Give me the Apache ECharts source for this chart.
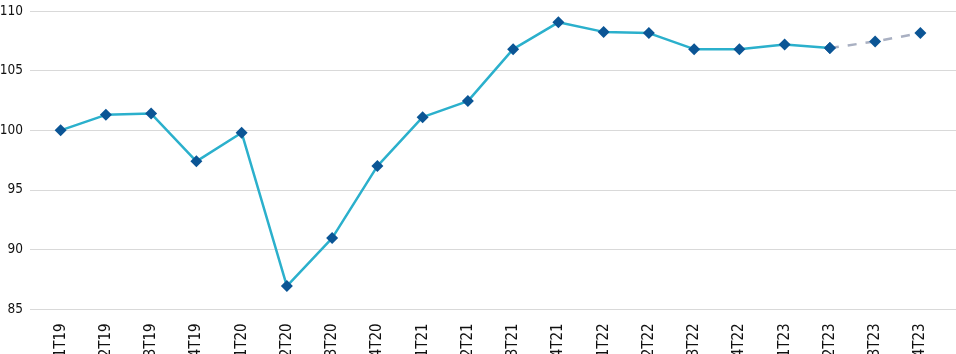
<!DOCTYPE html>
<html><head><meta charset="utf-8">
<script src="https://cdn.jsdelivr.net/npm/echarts@6/dist/echarts.min.js"></script>
<style>html,body{margin:0;padding:0;background:#fff}#c{width:956px;height:354px}</style>
</head><body><div id="c"></div>
<script>
var categories = ['1T19','2T19','3T19','4T19','1T20','2T20','3T20','4T20','1T21','2T21','3T21','4T21','1T22','2T22','3T22','4T22','1T23','2T23','3T23','4T23'];
var actual = [100.0,101.3,101.4,97.4,99.8,86.95,90.97,97.0,101.1,102.45,106.8,109.05,108.25,108.15,106.8,106.8,107.2,106.9,null,null];
var forecast = [null,null,null,null,null,null,null,null,null,null,null,null,null,null,null,null,null,106.9,107.45,108.15];
var yTicks = {min:85, max:110, interval:5};

var chart = echarts.init(document.getElementById('c'));
var font = '"DejaVu Sans Condensed", "DejaVu Sans", sans-serif';
chart.setOption({
  animation:false,
  grid:[
    {left:38, right:13, top:11, bottom:44.7, containLabel:false, outerBoundsMode:'none'},
    {left:30, right:0, top:11, bottom:44.7, containLabel:false, outerBoundsMode:'none'}
  ],
  xAxis:[
    {type:'category', data:categories, gridIndex:0, boundaryGap:true,
     axisLine:{show:false}, axisTick:{show:false},
     axisLabel:{rotate:90, color:'#111', fontSize:15, fontFamily:font, margin:14, interval:0}},
    {type:'value', gridIndex:1, show:false, min:0, max:1}
  ],
  yAxis:[
    {type:'value', gridIndex:0, min:yTicks.min, max:yTicks.max, interval:yTicks.interval,
     axisLine:{show:false}, axisTick:{show:false}, splitLine:{show:false},
     axisLabel:{show:false}},
    {type:'value', gridIndex:1, min:yTicks.min, max:yTicks.max, interval:yTicks.interval,
     axisLine:{show:false}, axisTick:{show:false},
     splitLine:{show:true, lineStyle:{color:'#d9d9d9', width:1}},
     axisLabel:{color:'#111', fontSize:13.5, fontFamily:font, margin:7}}
  ],
  series:[
    {type:'line', xAxisIndex:0, yAxisIndex:0, data:forecast, symbol:'diamond', symbolSize:12, z:2,
     lineStyle:{color:'#a9b0c2', width:2.5, type:[9,9]}, itemStyle:{color:'#0b5595'}},
    {type:'line', xAxisIndex:0, yAxisIndex:0, data:actual, symbol:'diamond', symbolSize:12, z:3,
     lineStyle:{color:'#2bb0cc', width:2.5}, itemStyle:{color:'#0b5595'}}
  ]
});
</script></body></html>
